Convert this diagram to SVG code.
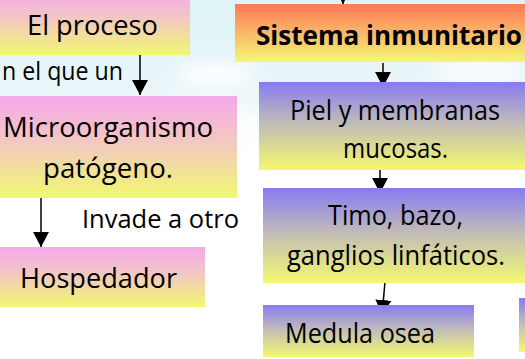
<svg xmlns="http://www.w3.org/2000/svg" width="525" height="359" viewBox="0 0 525 359">
<style>
text{font-family:"Open Sans","Noto Sans",sans-serif;font-size:27px;fill:#000}
.b{font-weight:bold;font-size:26px}
.c{stroke:#000;stroke-width:1.5;fill:none;marker-end:url(#ah)}
</style>
<defs>
<linearGradient id="gp" x1="0" y1="0" x2="0" y2="1"><stop offset="0" stop-color="#F4A8EC"/><stop offset="0.5" stop-color="#F3CCBC"/><stop offset="1" stop-color="#F1F870"/></linearGradient>
<linearGradient id="gv" x1="0" y1="0" x2="0" y2="1"><stop offset="0" stop-color="#887BF2"/><stop offset="0.5" stop-color="#C4C0B4"/><stop offset="1" stop-color="#F4F86E"/></linearGradient>
<linearGradient id="go" x1="0" y1="0" x2="0" y2="1"><stop offset="0" stop-color="#FF7858"/><stop offset="0.5" stop-color="#F9B868"/><stop offset="1" stop-color="#F4F872"/></linearGradient>
<linearGradient id="bg" x1="0" y1="0" x2="0" y2="1"><stop offset="0" stop-color="#DDF3F7"/><stop offset="0.25" stop-color="#EAF6F8"/><stop offset="0.45" stop-color="#FFFFFF"/></linearGradient>
<filter id="bl" x="-50%" y="-50%" width="200%" height="200%"><feGaussianBlur stdDeviation="8"/></filter>
<marker id="ah" markerUnits="userSpaceOnUse" markerWidth="16" markerHeight="16" viewBox="0 0 16 16" refX="15" refY="8" orient="auto"><path d="M0,0 L15,8 L0,16 Z" fill="#000"/></marker>
</defs>
<rect width="525" height="359" fill="url(#bg)"/>
<g filter="url(#bl)" fill="#FFFFFF" opacity="0.8">
<ellipse cx="215" cy="75" rx="40" ry="14"/>
<ellipse cx="480" cy="72" rx="50" ry="10"/>
<ellipse cx="240" cy="150" rx="25" ry="40"/>
</g>
<g id="connectors">
<path class="c" d="M90,-30 L90,2"/>
<path class="c" d="M343,-30 L343,4"/>
<path class="c" d="M140,52 L140,95"/>
<path class="c" d="M41,198 L41,247"/>
<path class="c" d="M383,63 L383,87"/>
<path class="c" d="M380,165 L380,193"/>
<path class="c" d="M385,282 L382,315"/>
</g>
<g id="el-proceso">
<rect x="-10" y="-10" width="200" height="65" fill="url(#gp)"/>
<text x="27" y="35" textLength="131" lengthAdjust="spacingAndGlyphs">El proceso</text>
</g>
<g id="label-en-el-que-un">
<text x="2" y="80" style="font-size:25px" textLength="121" lengthAdjust="spacingAndGlyphs">n el que un</text>
</g>
<g id="microorganismo">
<rect x="-10" y="96" width="247" height="102" fill="url(#gp)"/>
<text x="3" y="137" textLength="210" lengthAdjust="spacingAndGlyphs">Microorganismo</text>
<text x="43" y="178" textLength="130" lengthAdjust="spacingAndGlyphs">patógeno.</text>
</g>
<g id="label-invade">
<text x="82" y="228" textLength="157" lengthAdjust="spacingAndGlyphs" style="font-size:25px">Invade a otro</text>
</g>
<g id="hospedador">
<rect x="-10" y="247" width="215" height="60" fill="url(#gp)"/>
<text x="20" y="288" textLength="157" lengthAdjust="spacingAndGlyphs">Hospedador</text>
</g>
<g id="sistema-inmunitario">
<rect x="235" y="4" width="300" height="58" fill="url(#go)"/>
<text class="b" x="256" y="45" textLength="266" lengthAdjust="spacingAndGlyphs">Sistema inmunitario</text>
</g>
<g id="piel">
<rect x="259" y="82" width="276" height="88" fill="url(#gv)"/>
<text x="290" y="120" textLength="210" lengthAdjust="spacingAndGlyphs">Piel y membranas</text>
<text x="343" y="158" textLength="105" lengthAdjust="spacingAndGlyphs">mucosas.</text>
</g>
<g id="timo">
<rect x="263" y="188" width="272" height="95" fill="url(#gv)"/>
<text x="328" y="225" textLength="135" lengthAdjust="spacingAndGlyphs">Timo, bazo,</text>
<text x="287" y="265" textLength="218" lengthAdjust="spacingAndGlyphs">ganglios linfáticos.</text>
</g>
<g id="medula">
<rect x="263" y="305" width="211" height="52" fill="url(#gv)"/>
<text x="285" y="343" textLength="150" lengthAdjust="spacingAndGlyphs">Medula osea</text>
</g>
<g id="box-right">
<rect x="519" y="298" width="20" height="54" fill="url(#gv)"/>
</g>
</svg>
